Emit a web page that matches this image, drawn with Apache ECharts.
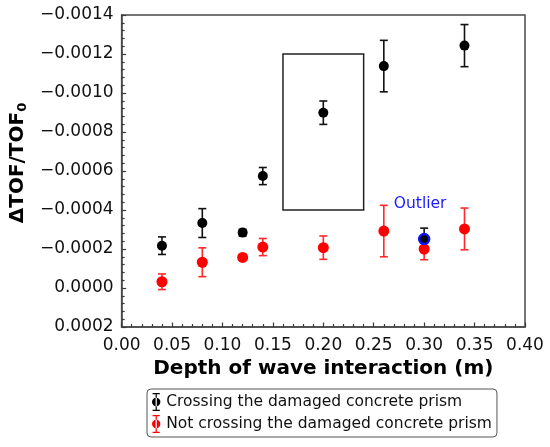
<!DOCTYPE html>
<html>
<head>
<meta charset="utf-8">
<script src="https://cdn.jsdelivr.net/npm/echarts@6/dist/echarts.min.js"></script>
<style>html,body{margin:0;padding:0;background:#fff;}#c{width:550px;height:447px;}</style>
</head>
<body>
<div id="c"></div>
<script>
// Crossing the damaged concrete prism
const crossX = [0.04, 0.08, 0.12, 0.14, 0.20, 0.26, 0.34];
const crossY = [-0.000217, -0.000333, -0.000284, -0.000574, -0.000899, -0.001138, -0.001243];
const crossErr = [0.000045, 0.000074, 0.000017, 0.000044, 0.00006, 0.000132, 0.000108];
// Outlier (crossing series)
const outX = [0.30];
const outY = [-0.000251];
const outErr = [0.000056];
// Not crossing the damaged concrete prism
const notX = [0.04, 0.08, 0.12, 0.14, 0.20, 0.26, 0.30, 0.34];
const notY = [-0.000032, -0.000132, -0.000157, -0.00021, -0.000207, -0.000292, -0.0002, -0.000303];
const notErr = [0.00004, 0.000074, 0.000015, 0.000044, 0.00006, 0.000132, 0.000055, 0.000107];
// Highlight box
const boxX = [0.16, 0.24];
const boxY = [-0.0012, -0.0004];
// Annotation
const outlierLabel = { text: 'Outlier', x: 0.296, y: -0.00043 };
// Axis ranges [min, max, interval]
const xRange = [0, 0.4, 0.05];
const yRange = [-0.0014, 0.0002, 0.0002];

const names = ['Crossing the damaged concrete prism', 'Not crossing the damaged concrete prism'];
const FONT = 'DejaVu Sans';

function pts(xs, ys, es) { return xs.map((x, i) => [x, ys[i], es[i]]); }

function errSeries(name, data, color) {
  return {
    name: name, type: 'custom', z: 3,
    renderItem: function (params, api) {
      const x = api.value(0), y = api.value(1), e = api.value(2);
      const hi = api.coord([x, y - e]);
      const lo = api.coord([x, y + e]);
      const cw = 4;
      const st = { stroke: color, lineWidth: 1.6 };
      return {
        type: 'group', children: [
          { type: 'line', shape: { x1: hi[0], y1: hi[1], x2: lo[0], y2: lo[1] }, style: st },
          { type: 'line', shape: { x1: hi[0] - cw, y1: hi[1], x2: hi[0] + cw, y2: hi[1] }, style: st },
          { type: 'line', shape: { x1: lo[0] - cw, y1: lo[1], x2: lo[0] + cw, y2: lo[1] }, style: st }
        ]
      };
    },
    encode: { x: 0, y: 1 },
    data: data
  };
}

const iconPath = 'path://M4,0 L16,0 L16,2 L11,2 L11,28 L16,28 L16,30 L4,30 L4,28 L9,28 L9,2 L4,2 Z M3,15 A7,7 0 1,0 17,15 A7,7 0 1,0 3,15 Z';

function fmtY(v) {
  const a = Math.abs(v);
  if (a < 1e-12) return '0.0000';
  return (v < 0 ? '\u2212' : '') + a.toFixed(4);
}

const axisCol = '#3a3a3a';
const chart = echarts.init(document.getElementById('c'));
chart.setOption({
  animation: false,
  textStyle: { fontFamily: FONT },
  grid: { left: 121, right: 25, top: 15, bottom: 120, show: true, borderColor: '#4a4a4a', borderWidth: 1.5, backgroundColor: 'transparent' },
  xAxis: {
    type: 'value', min: xRange[0], max: xRange[1], interval: xRange[2],
    name: 'Depth of wave interaction (m)', nameLocation: 'middle', nameGap: 32,
    nameTextStyle: { fontFamily: FONT, fontSize: 20, fontWeight: 'bold', color: '#000' },
    axisLine: { show: true, onZero: false, lineStyle: { color: '#4a4a4a', width: 1.5 } },
    axisTick: { show: true, inside: true, length: 4.5, lineStyle: { color: axisCol, width: 1.2 } },
    minorTick: { show: true, splitNumber: 5, length: 3, lineStyle: { color: axisCol, width: 1.2 } },
    splitLine: { show: false },
    axisLabel: { fontFamily: FONT, fontSize: 17, color: '#111', margin: 10, formatter: v => v.toFixed(2) }
  },
  yAxis: {
    type: 'value', min: yRange[0], max: yRange[1], interval: yRange[2], inverse: true,
    name: 'ΔTOF/TOF{s|0}', nameLocation: 'middle', nameGap: 88, nameRotate: 90,
    nameTextStyle: { fontFamily: FONT, fontSize: 20, fontWeight: 'bold', color: '#000', padding: [0, 0, 0, 16],
      rich: { s: { fontFamily: FONT, fontSize: 13, fontWeight: 'bold', color: '#000', padding: [9, 0, 0, 0] } } },
    axisLine: { show: true, onZero: false, lineStyle: { color: '#4a4a4a', width: 1.5 } },
    axisTick: { show: true, inside: true, length: 4.5, lineStyle: { color: axisCol, width: 1.2 } },
    minorTick: { show: true, splitNumber: 5, length: 3, lineStyle: { color: axisCol, width: 1.2 } },
    splitLine: { show: false },
    axisLabel: { fontFamily: FONT, fontSize: 17, color: '#111', margin: 8, formatter: fmtY }
  },
  legend: {
    orient: 'vertical', left: 147, top: 389, width: 351,
    padding: [4, 5, 4, 5], itemGap: 4, itemWidth: 10, itemHeight: 18,
    borderColor: '#555', borderWidth: 1, borderRadius: 4,
    textStyle: { fontFamily: FONT, fontSize: 15.5, color: '#111' },
    data: [
      { name: names[0], icon: iconPath, itemStyle: { color: '#000' } },
      { name: names[1], icon: iconPath, itemStyle: { color: '#ff0000' } }
    ]
  },
  series: [
    errSeries(names[1], pts(notX, notY, notErr), '#ff2a2a'),
    {
      name: names[1], type: 'scatter', z: 4, symbol: 'circle', symbolSize: 11,
      itemStyle: { color: '#ff0000', opacity: 1 },
      data: notX.map((x, i) => [x, notY[i]])
    },
    errSeries(names[0], pts(crossX, crossY, crossErr).concat(pts(outX, outY, outErr)), '#111'),
    {
      name: names[0], type: 'scatter', z: 5, symbol: 'circle', symbolSize: 10,
      itemStyle: { color: '#000', opacity: 1 },
      data: crossX.map((x, i) => [x, crossY[i]]).concat(outX.map((x, i) => ({
        value: [x, outY[i]], itemStyle: { color: '#000', borderColor: '#1010ff', borderWidth: 2.5 }
      }))),
      markArea: {
        silent: true,
        itemStyle: { color: 'transparent', borderColor: '#222', borderWidth: 1.5 },
        data: [[{ coord: [boxX[0], boxY[0]] }, { coord: [boxX[1], boxY[1]] }]]
      },
      markPoint: {
        silent: true, symbolSize: 0,
        label: { show: true, formatter: outlierLabel.text, color: '#1a1aff', fontFamily: FONT, fontSize: 15.5, position: 'inside' },
        data: [{ coord: [outlierLabel.x, outlierLabel.y], value: 0 }]
      }
    }
  ]
});
</script>
</body>
</html>
